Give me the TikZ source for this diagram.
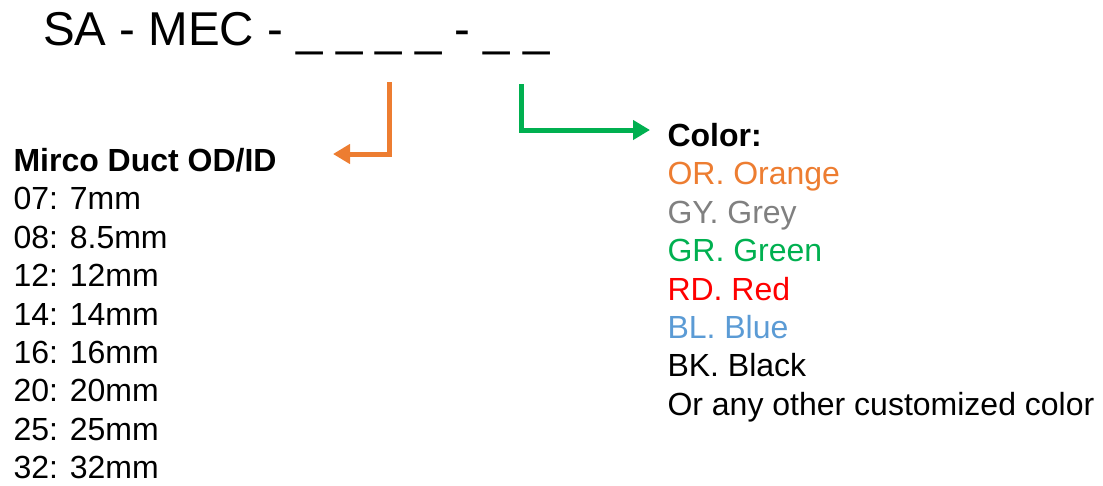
\documentclass[tikz,border=0pt]{standalone}
\usepackage{fontspec}
\setmainfont{Liberation Sans}
\usetikzlibrary{arrows.meta}
\definecolor{cOrange}{HTML}{ED7D31}
\definecolor{cGrey}{HTML}{808080}
\definecolor{cGreen}{HTML}{00B050}
\definecolor{cRed}{HTML}{FF0000}
\definecolor{cBlue}{HTML}{5B9BD5}
\tikzset{
  txt/.style={anchor=base west, inner sep=0pt, outer sep=0pt, font=\fontsize{32}{38}\selectfont},
  hdr/.style={txt, font=\fontsize{32}{38}\selectfont\bfseries},
  conn/.style={line width=5pt, -{Triangle[length=17pt,width=19pt]}}
}
\begin{document}
\begin{tikzpicture}[x=1pt,y=-1pt]
\useasboundingbox (0,0) rectangle (1103,485);
\node[anchor=base west, inner sep=0pt, font=\fontsize{47.5}{58}\selectfont] (title) at (43,45) {SA - MEC - \_ \_ \_ \_ - \_ \_};
% left list
\node[hdr] (mirco) at (13.5,171.5) {Mirco Duct OD/ID};
\node[txt] (l1) at (13.5,209.9) {07: 7mm};
\node[txt] (l2) at (13.5,248.3) {08: 8.5mm};
\node[txt] (l3) at (13.5,286.7) {12: 12mm};
\node[txt] (l4) at (13.5,325.1) {14: 14mm};
\node[txt] (l5) at (13.5,363.5) {16: 16mm};
\node[txt] (l6) at (13.5,401.9) {20: 20mm};
\node[txt] (l7) at (13.5,440.3) {25: 25mm};
\node[txt] (l8) at (13.5,478.7) {32: 32mm};
% right list
\node[hdr] (color) at (667.5,146.5) {Color:};
\node[txt, text=cOrange] (r1) at (667.5,184.9) {OR. Orange};
\node[txt, text=cGrey] (r2) at (667.5,223.3) {GY. Grey};
\node[txt, text=cGreen] (r3) at (667.5,261.7) {GR. Green};
\node[txt, text=cRed] (r4) at (667.5,300.1) {RD. Red};
\node[txt, text=cBlue] (r5) at (667.5,338.5) {BL. Blue};
\node[txt] (r6) at (667.5,376.9) {BK. Black};
\node[txt] (r7) at (667.5,415.3) {Or any other customized color};
% connectors
\coordinate (oStart) at (389,82);
\coordinate (oEnd) at (333,154);
\coordinate (gStart) at (521,84);
\coordinate (gEnd) at (650,130);
\draw[conn, cOrange] (oStart) |- (oEnd);
\draw[conn, cGreen] (gStart) |- (gEnd);
\end{tikzpicture}
\end{document}
